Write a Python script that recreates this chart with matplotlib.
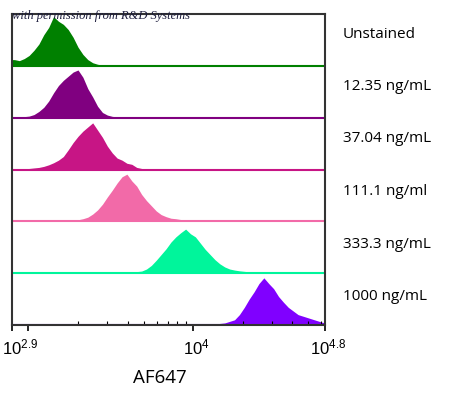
import numpy as np
import matplotlib
matplotlib.use("Agg")
import matplotlib.pyplot as plt
from matplotlib.ticker import FixedLocator, NullFormatter
from matplotlib.transforms import ScaledTranslation

# log10 range of the AF647 axis, 64 equal bins
log_lo = 2.9
log_hi = 4.8
n_bins = 64

labels = ["Unstained", "12.35 ng/mL", "37.04 ng/mL", "111.1 ng/ml", "333.3 ng/mL", "1000 ng/mL"]
colors = ["#008000", "#800080", "#c71585", "#f26aa8", "#00f59b", "#8000ff"]

# relative counts per bin (1.0 = full panel height)
unstained = [0.12, 0.10, 0.14, 0.20, 0.30, 0.42, 0.60, 0.74, 0.95, 0.86, 0.80, 0.70,
             0.55, 0.36, 0.22, 0.12, 0.06, 0.03, 0.015, 0.01, 0.01] + [0.005] * 43
c12 = [0.01, 0.015, 0.02, 0.03, 0.06, 0.12, 0.20, 0.32, 0.48, 0.62, 0.72, 0.80,
       0.88, 0.92, 0.78, 0.56, 0.40, 0.22, 0.10, 0.05, 0.025, 0.015, 0.01] + [0.005] * 41
c37 = [0.01, 0.01, 0.015, 0.02, 0.03, 0.04, 0.06, 0.09, 0.13, 0.18, 0.25, 0.38,
       0.52, 0.64, 0.74, 0.82, 0.90, 0.76, 0.62, 0.45, 0.32, 0.22, 0.18, 0.12,
       0.10, 0.04, 0.02, 0.012, 0.01] + [0.005] * 35
c111 = [0.005, 0.005, 0.005, 0.005, 0.005, 0.006, 0.006, 0.008, 0.008, 0.01, 0.01, 0.015,
        0.02, 0.03, 0.05, 0.08, 0.14, 0.22, 0.33, 0.47, 0.60, 0.74, 0.86, 0.91,
        0.78, 0.68, 0.52, 0.40, 0.30, 0.20, 0.13, 0.09, 0.06, 0.05, 0.035, 0.025,
        0.02, 0.015, 0.01] + [0.005] * 25
c333 = [0.004] * 20 + [0.01, 0.012, 0.015, 0.02, 0.025, 0.03,
        0.04, 0.08, 0.15, 0.25, 0.36, 0.47, 0.60, 0.70, 0.78, 0.85, 0.76, 0.70,
        0.58, 0.46, 0.36, 0.26, 0.18, 0.12, 0.08, 0.06, 0.045, 0.035, 0.025, 0.02,
        0.015, 0.01] + [0.005] * 12
c1000 = [0.004] * 10 + [0.01] * 30 + [0.015, 0.02, 0.03, 0.04, 0.07, 0.10,
         0.20, 0.34, 0.50, 0.64, 0.80, 0.91, 0.80, 0.70, 0.55, 0.44, 0.34, 0.27,
         0.20, 0.17, 0.14, 0.11, 0.08, 0.05]

panels = [unstained, c12, c37, c111, c333, c1000]

plt.rcParams["font.family"] = ["Liberation Sans", "DejaVu Sans"]
plt.rcParams["mathtext.default"] = "regular"

fig = plt.figure(figsize=(4.5, 3.96), dpi=100)
ax = fig.add_axes([12 / 450, 1 - 325 / 396, 313 / 450, 311 / 396])

edges = np.logspace(log_lo, log_hi, n_bins + 1)
centers = np.sqrt(edges[:-1] * edges[1:])
# extend to the axis edges so the fill reaches both sides
xs = np.concatenate([[edges[0]], centers, [edges[-1]]])
n = len(panels)
for k, (vals, col, lab) in enumerate(zip(panels, colors, labels)):
    base = n - 1 - k
    v = np.array(vals)
    ys = np.concatenate([[v[0]], v, [v[-1]]]) + base
    ax.fill_between(xs, base, ys, color=col, lw=0)
    ax.axhline(base, color=col, lw=1.5)
    # concentration label to the right of each panel
    fig.text(343 / 450, 1 - (34 + 52.5 * k) / 396, lab, fontsize=11,
             family=["Open Sans", "DejaVu Sans"], va="center", ha="left")

ax.set_xscale("log")
ax.set_xlim(10 ** log_lo, 10 ** log_hi)
ax.set_ylim(0, n)
ax.set_yticks([])

ax.xaxis.set_major_locator(FixedLocator([10 ** 2.9, 1e3, 1e4, 10 ** 4.8]))
ax.set_xticklabels([r"$10^{2.9}$", "", r"$10^{4}$", r"$10^{4.8}$"], fontsize=12)
minor = [m * 1e3 for m in range(2, 10)] + [m * 1e4 for m in range(2, 7)]
ax.xaxis.set_minor_locator(FixedLocator(minor))
ax.xaxis.set_minor_formatter(NullFormatter())
ax.tick_params(axis="x", which="major", direction="out", length=4, width=1.2, pad=5)
ax.tick_params(axis="x", which="minor", direction="in", length=3, width=0.8)
for t, dx in zip(ax.get_xticklabels(), [0.08, 0, 0.03, 0.03]):
    t.set_transform(t.get_transform() + ScaledTranslation(dx, 0, fig.dpi_scale_trans))

for s in ax.spines.values():
    s.set_color("#333333")
    s.set_linewidth(1.5)

ax.set_xlabel("AF647", fontsize=13.5, family=["Open Sans", "DejaVu Sans"])
ax.xaxis.set_label_coords(0.473, -0.14)

fig.text(12 / 450, 1 - 16 / 396, "with permission from R&D Systems", fontsize=9,
         family="Liberation Serif", style="italic", color="#1c1c3c", va="center")

fig.savefig("out.png", dpi=100)
